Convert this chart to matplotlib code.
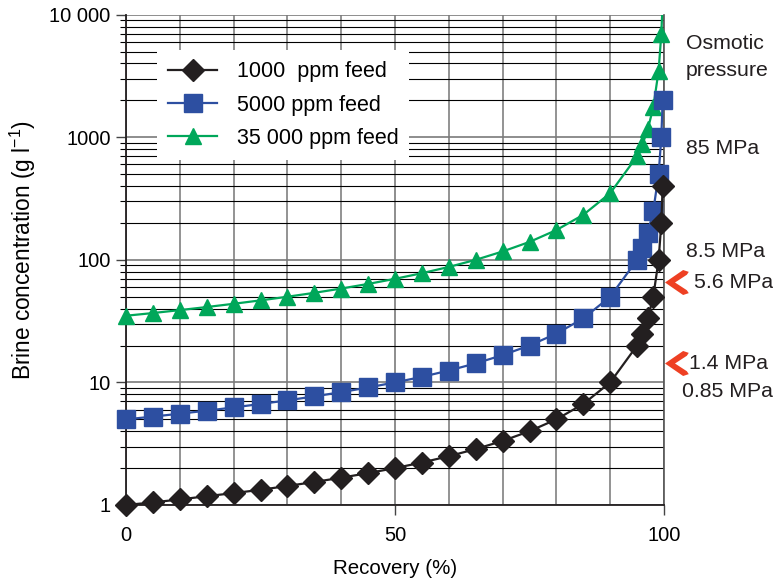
import matplotlib
matplotlib.use("Agg")
import matplotlib.pyplot as plt
from matplotlib.path import Path
import numpy as np

plt.rcParams['font.family'] = ['Liberation Sans', 'DejaVu Sans']
plt.rcParams['mathtext.fontset'] = 'custom'
plt.rcParams['mathtext.rm'] = 'Liberation Sans'
plt.rcParams['mathtext.it'] = 'Liberation Sans:italic'

# recovery (%) for the points
rec_1000 = [0, 5, 10, 15, 20, 25, 30, 35, 40, 45, 50, 55, 60, 65, 70, 75, 80, 85, 90,
            95, 96, 97, 98, 99, 99.5, 99.75]
conc_1000 = [1.0, 1.05, 1.11, 1.18, 1.25, 1.33, 1.43, 1.54, 1.67, 1.82, 2.0, 2.22, 2.5,
             2.86, 3.33, 4.0, 5.0, 6.67, 10, 20, 25, 33.3, 50, 100, 200, 400]

rec_5000 = rec_1000
conc_5000 = [5.0, 5.26, 5.56, 5.88, 6.25, 6.67, 7.14, 7.69, 8.33, 9.09, 10, 11.1, 12.5,
             14.3, 16.7, 20, 25, 33.3, 50, 100, 125, 167, 250, 500, 1000, 2000]

rec_35000 = rec_1000[:-1]
conc_35000 = [35, 36.8, 38.9, 41.2, 43.8, 46.7, 50, 53.8, 58.3, 63.6, 70, 77.8, 87.5,
              100, 117, 140, 175, 233, 350, 700, 875, 1167, 1750, 3500, 7000]
# line of the 35 000 feed runs on to the top of the plot
rec_35000_end = [99.5, 99.65]
conc_35000_end = [7000, 10000]

labels = ['1000  ppm feed', '5000 ppm feed', '35 000 ppm feed']
colors = ['#231f20', '#2d4fa1', '#00a75a']

# right-hand notes: (text, x, y)
notes = [('Osmotic', 104.1, 5865), ('pressure', 104.1, 3534), ('85 MPa', 104.1, 817),
         ('8.5 MPa', 104.1, 118), ('5.6 MPa', 105.6, 65.9), ('1.4 MPa', 104.6, 14.4),
         ('0.85 MPa', 103.4, 8.5)]
arrow_y = [65.9, 14.4]

fig = plt.figure(figsize=(7.73, 5.83), dpi=100)
ax = fig.add_axes([0.163, 0.1338, 0.696, 0.841])

ax.set_yscale('log')
ax.set_xlim(0, 100)
ax.set_ylim(1, 10000)

ax.plot(rec_1000, conc_1000, color=colors[0], lw=1.6, marker='D', ms=11,
        label=labels[0], clip_on=False, zorder=5)
ax.plot(rec_5000, conc_5000, color=colors[1], lw=1.6, marker='s', ms=12.5,
        label=labels[1], clip_on=False, zorder=4)
ax.plot(rec_35000, conc_35000, color=colors[2], lw=1.6, marker='^', ms=12,
        label=labels[2], clip_on=False, zorder=3)
ax.plot(rec_35000_end, conc_35000_end, color=colors[2], lw=1.6, zorder=3)

# grid
ax.set_xticks([0, 50, 100])
ax.set_xticks(np.arange(10, 100, 10), minor=True)
ax.set_xticklabels(['0', '50', '100'])
ax.set_yticks([1, 10, 100, 1000, 10000])
ax.set_yticklabels(['1', '10', '100', '1000', '10 000'])
ax.grid(True, which='major', axis='both', color='#7a7a7a', lw=1.2)
ax.grid(True, which='minor', axis='x', color='#8a8a8a', lw=1.3)
ax.grid(True, which='minor', axis='y', color='black', lw=0.8)
ax.set_axisbelow(True)

ax.tick_params(axis='both', which='major', length=7, width=1.0, labelsize=14.5,
               direction='out', color='#444444')
ax.tick_params(axis='x', which='major', pad=8)
ax.tick_params(axis='x', which='minor', length=0)
ax.tick_params(axis='y', which='minor', length=4, width=0.8, direction='out')
ax.tick_params(axis='y', which='major', pad=4)

for side in ['left', 'bottom']:
    ax.spines[side].set_linewidth(1.3)
    ax.spines[side].set_color('#231f20')
ax.spines['top'].set_visible(False)
ax.spines['right'].set_linewidth(1.2)
ax.spines['right'].set_color('#555555')

ax.set_xlabel('Recovery (%)', fontsize=14.8, labelpad=10)
ax.set_ylabel(r'Brine concentration (g l$^{-1}$)', fontsize=16.3, labelpad=2)
ax.yaxis.set_label_coords(-0.163, 0.52)

leg = ax.legend(loc='upper left', bbox_to_anchor=(0.058, 0.927), fontsize=15.5,
                frameon=True, fancybox=False, handlelength=2.3, handletextpad=0.9,
                labelspacing=0.57, borderpad=0.5, borderaxespad=0)
leg.get_frame().set_facecolor('white')
leg.get_frame().set_edgecolor('none')
leg.get_frame().set_alpha(1)

for txt, x, y in notes:
    ax.text(x, y, txt, fontsize=15.3, va='center', ha='left', color='#231f20',
            clip_on=False)

# red chevrons pointing at the axis
chev = Path([(-1, 0), (0.45, 1), (0.9, 0.85), (0.75, 0.62), (-0.2, 0.0),
             (0.75, -0.62), (0.9, -0.85), (0.45, -1), (-1, 0)],
            [Path.MOVETO] + [Path.LINETO] * 7 + [Path.CLOSEPOLY])
ax.plot([102.4] * len(arrow_y), arrow_y, linestyle='none', marker=chev, ms=18,
        color='#ee4023', mec='none', clip_on=False)

fig.savefig('out.png', dpi=100)
